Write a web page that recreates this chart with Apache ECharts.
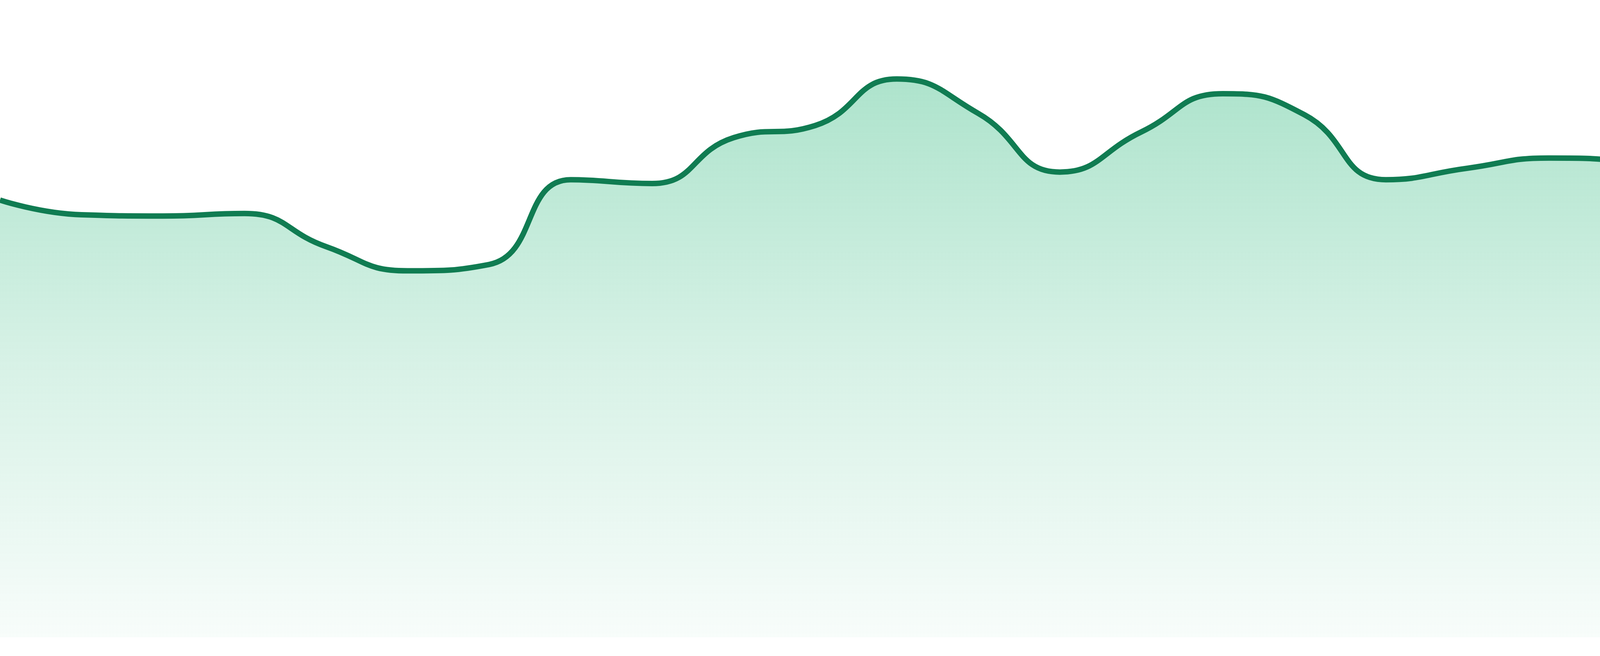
<!DOCTYPE html>
<html>
<head>
<meta charset="utf-8">
<script src="https://cdn.jsdelivr.net/npm/echarts@6/dist/echarts.min.js"></script>
<style>
  html, body { margin: 0; padding: 0; background: #ffffff; }
  #chart { width: 4800px; height: 1680px; }
</style>
</head>
<body>
<div id="chart"></div>
<script>
var hours = ["00:00", "01:00", "02:00", "03:00", "04:00", "05:00", "06:00", "07:00",
    "08:00", "09:00", "10:00", "11:00", "12:00", "13:00", "14:00", "15:00",
    "16:00", "17:00", "18:00", "19:00", "20:00", "21:00", "22:00", "23:00"];
var values = [68.6, 66.3, 66.1, 66.5, 61.3, 57.5, 58.5, 71.8, 71.2, 78.4, 80.3, 87.6,
    82.2, 73.0, 79.3, 85.3, 82.0, 71.8, 73.6, 75.2, 74.6, 71.8, 69.9, 69.4];

var chart = echarts.init(document.getElementById("chart"));
chart.setOption({
    animation: false,
    grid: { left: 0, right: 0, top: 0, bottom: 48 },
    xAxis: { type: "category", data: hours, boundaryGap: false, show: false },
    yAxis: { type: "value", min: 0, max: 100, show: false },
    series: [{
        type: "line",
        data: values,
        smooth: true,
        symbol: "none",
        lineStyle: { color: "#107c52", width: 14 },
        areaStyle: {
            // area opacity defaults to 0.7, so set it to 1 and keep alpha in the stops
            opacity: 1,
            color: new echarts.graphic.LinearGradient(0, 0, 0, 1, [
                { offset: 0, color: "rgba(16,174,106,0.34)" },
                { offset: 0.5, color: "rgba(16,174,106,0.17)" },
                { offset: 1, color: "rgba(16,174,106,0.03)" }
            ])
        }
    }]
});
</script>
</body>
</html>
